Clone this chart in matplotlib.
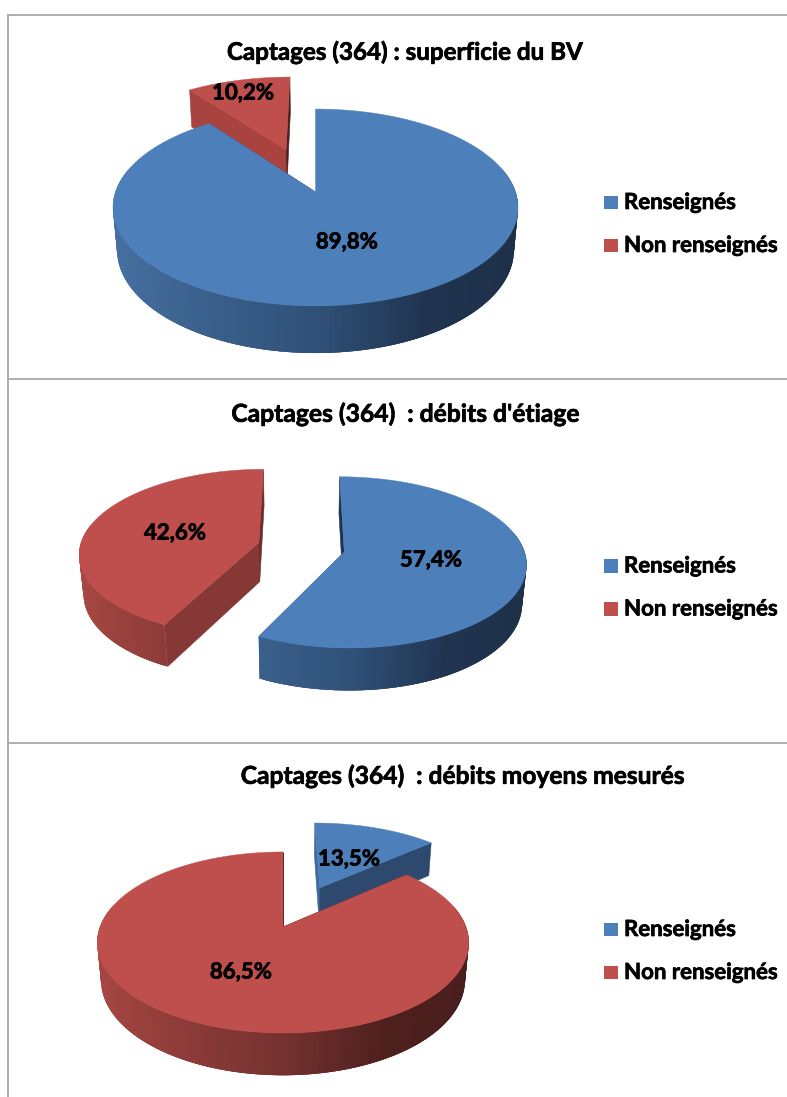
#!/usr/bin/env python3
"""Three exploded 3D-look pie charts, stacked, with a shared legend layout."""
import numpy as np
import matplotlib
matplotlib.use("Agg")
import matplotlib.pyplot as plt
import matplotlib.patheffects as pe
from matplotlib.collections import PolyCollection

W, H = 787, 1097
BLUE, RED = "#4d7fbb", "#be4f4c"
RULE = "#a8a8a8"
FONT = "Lato"

CATEGORIES = ["Renseignés", "Non renseignés"]
TITLES = ["Captages (364) : superficie du BV",
          "Captages (364)  : débits d'étiage",
          "Captages (364)  : débits moyens mesurés"]
SHARES_BV = [89.8, 10.2]
SHARES_ETIAGE = [57.4, 42.6]
SHARES_MOYENS = [13.5, 86.5]

# side wall shading, left to right
BLUE_RAMP = [(72, 113, 163), (48, 82, 122), (32, 52, 80), (30, 48, 72)]
RED_RAMP = [(170, 72, 68), (118, 50, 48), (78, 32, 30), (72, 30, 28)]
RAMP_POS = [0, 0.5, 0.75, 1]
HEAVY = [pe.withStroke(linewidth=0.5, foreground="black")]


def ramp_color(ramp, t):
    return tuple(np.interp(t, RAMP_POS, [c[i] for c in ramp]) / 255 for i in range(3))


def project(U, V, z, view):
    den = 1 + view["k"] * V + 0.02 * z
    x = view["xv"] + view["R"] * U / den
    y = view["yv"] - (view["A"] * V - view["D"] * z) / den
    return np.column_stack([x, y])


def draw_slice(ax, a0, a1, explode, color, ramp, wall0, wall1, view):
    mid = np.radians((a0 + a1) / 2)
    ox, oy = explode * np.sin(mid), explode * np.cos(mid)
    th = np.radians(np.linspace(a0, a1, 241))
    u, v = np.sin(th), np.cos(th)
    U, V = u + ox, v + oy
    zero = np.zeros_like(U)

    tip_top = project(np.array([ox]), np.array([oy]), 0, view)
    tip_bot = project(np.array([ox]), np.array([oy]), 1, view)
    top = project(U, V, zero, view)
    bot = project(U, V, zero + 1, view)

    # flat faces along the cuts
    for i, wc in ((0, wall0), (-1, wall1)):
        face = [tip_top[0], top[i], bot[i], tip_bot[0]]
        ax.fill(*zip(*face), color=wc, lw=0.4, zorder=ax.zcount)
        ax.zcount += 1

    # rim: front-facing strips only, overlapping, painted left to right
    # so no antialiased seam lets the white through
    idx = [i for i in range(len(th) - 3) if v[i] < 0.2 or v[i + 3] < 0.2]
    idx.sort(key=lambda i: top[i, 0] + top[i + 3, 0])
    quads = [[top[i], top[i + 3], bot[i + 3], bot[i]] for i in idx]
    cols = [ramp_color(ramp, (u[i] + u[i + 3]) / 4 + 0.5) for i in idx]
    if quads:
        ax.add_collection(PolyCollection(quads, facecolors=cols, edgecolors="none",
                                         linewidths=0, zorder=ax.zcount))
    ax.zcount += 1

    outline = np.vstack([tip_top, top])
    ax.fill(outline[:, 0], outline[:, 1], color=color, lw=0.3, zorder=ax.zcount)
    ax.zcount += 1


def draw_pie(ax, shares, explode, paint_order, walls, view):
    angles = np.concatenate([[0], np.cumsum(shares)]) * 3.6
    for i in paint_order:
        draw_slice(ax, angles[i], angles[i + 1], explode[i],
                   [BLUE, RED][i], [BLUE_RAMP, RED_RAMP][i],
                   walls[i][0], walls[i][1], view)


def pct(v):
    return f"{v:.1f}%".replace(".", ",")


fig = plt.figure(figsize=(W / 100, H / 100), dpi=100, facecolor="white")
ax = fig.add_axes([0, 0, 1, 1])
ax.set_xlim(0, W)
ax.set_ylim(H, 0)
ax.axis("off")
ax.zcount = 5

# frame: left edge, top edge and the two separators
ax.plot([8, 8], [15, H], color=RULE, lw=1.3, zorder=1)
for y in (15, 379, 743):
    ax.plot([8, W], [y, y], color=RULE, lw=1.3, zorder=1)

draw_pie(ax, SHARES_BV, [0, 0.5], [1, 0],
         [("#1f3350", "#2c4a70"), ("#a8433f", "#4d1f1e")],
         dict(xv=315.5, yv=192, R=200, A=96, k=0.157, D=43))
draw_pie(ax, SHARES_ETIAGE, [0.245, 0.245], [1, 0],
         [("#1f3350", "#2c4a70"), ("#853835", "#6e2c2a")],
         dict(xv=301.3, yv=547.3, R=179, A=83.2, k=0.12, D=40))
draw_pie(ax, SHARES_MOYENS, [0.53, 0], [0, 1],
         [("#3f6a9c", "#2d4a6e"), ("#4d1f1e", "#4d1f1e")],
         dict(xv=283, yv=927, R=183, A=87.9, k=0.171, D=38))

title_xy = [(404.5, 52), (405, 414), (463, 776)]
title_size = [17.4, 17.75, 17.7]
for t, (x, y), fs in zip(TITLES, title_xy, title_size):
    ax.text(x, y, t, ha="center", va="center", fontsize=fs, fontweight="bold",
            family=FONT, color="black", zorder=200, path_effects=HEAVY)

label_xy = [((347, 242), (243, 93)), ((431, 560), (175, 533)), ((349, 859), (241, 972))]
for vals, xy in zip([SHARES_BV, SHARES_ETIAGE, SHARES_MOYENS], label_xy):
    for v, (x, y) in zip(vals, xy):
        ax.text(x, y, pct(v), ha="center", va="center", fontsize=16, fontweight="bold",
                family=FONT, color="black", zorder=200, path_effects=HEAVY)

for y0 in (202, 565.5, 929):
    for i, name in enumerate(CATEGORIES):
        yc = y0 + i * 43
        ax.add_patch(plt.Rectangle((604, yc - 6.5), 13.5, 13.5, color=[BLUE, RED][i], lw=0, zorder=200))
        ax.text(624, yc + 0.5, name, ha="left", va="center", fontsize=16, fontweight="bold",
                family=FONT, color="black", zorder=200, path_effects=HEAVY)

fig.savefig("out.png", dpi=100, facecolor="white")
